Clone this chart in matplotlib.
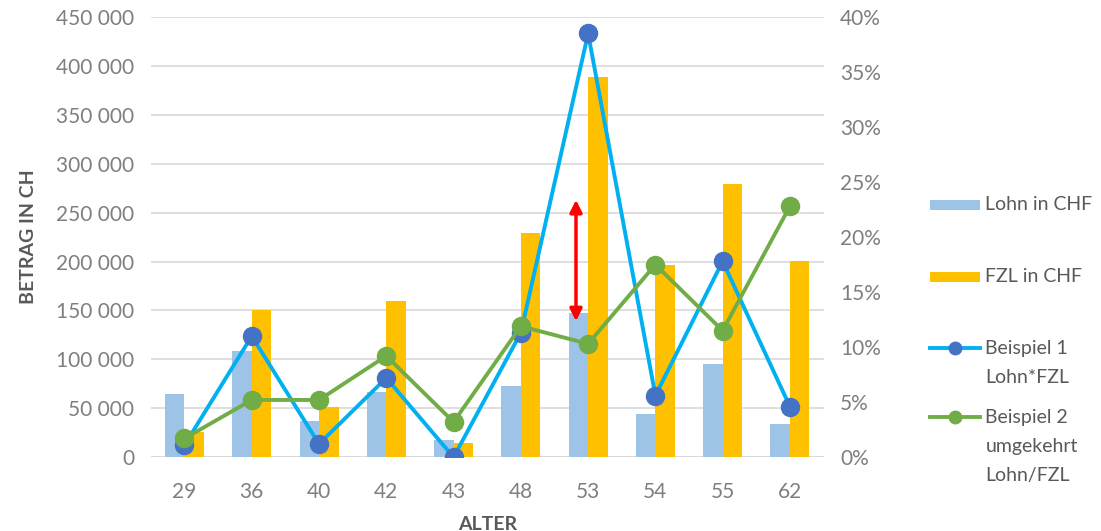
import matplotlib.pyplot as plt
from matplotlib.ticker import FuncFormatter, MultipleLocator
from matplotlib.lines import Line2D
from matplotlib.patches import Rectangle
import numpy as np

plt.rcParams['font.family'] = ['Lato', 'DejaVu Sans']

alter = ['29', '36', '40', '42', '43', '48', '53', '54', '55', '62']
lohn = [65000, 109000, 37000, 67000, 18000, 73000, 147000, 44000, 95000, 34000]
fzl = [26000, 150000, 51000, 160000, 15000, 229000, 389000, 196000, 279000, 201000]
beispiel_1 = [1.1, 11.0, 1.2, 7.2, 0.0, 11.3, 38.5, 5.6, 17.8, 4.6]
beispiel_2 = [1.7, 5.2, 5.2, 9.2, 3.2, 11.9, 10.3, 17.5, 11.5, 22.8]

# Pfeil zwischen Lohn und FZL bei Alter 53
pfeil_x = 5.82
pfeil_von, pfeil_bis = 139000, 263000

GRAU = '#7F7F7F'
TITEL_GRAU = '#595959'
HELLBLAU = '#9DC3E6'
GELB = '#FFC000'
CYAN = '#00B0F0'
BLAU = '#4472C4'
GRUEN = '#70AD47'

fig = plt.figure(figsize=(11.01, 5.31), dpi=100)
ax = fig.add_axes([0.137, 0.139, 0.611, 0.829])
ax2 = ax.twinx()

x = np.arange(len(alter))
breite = 0.29
ax.bar(x - breite / 2, lohn, breite, color=HELLBLAU, zorder=2)
ax.bar(x + breite / 2, fzl, breite, color=GELB, zorder=2)

ax.annotate('', xy=(pfeil_x, pfeil_bis), xytext=(pfeil_x, pfeil_von),
            arrowprops=dict(arrowstyle='<|-|>', color='red', lw=2.5,
                            mutation_scale=18, shrinkA=0, shrinkB=0), zorder=3)

ax2.plot(x, beispiel_1, color=CYAN, lw=2.8, marker='o', markersize=13,
         markerfacecolor=BLAU, markeredgecolor=BLAU, zorder=4)
ax2.plot(x, beispiel_2, color=GRUEN, lw=2.8, marker='o', markersize=13,
         markerfacecolor=GRUEN, markeredgecolor=GRUEN, zorder=4)

ax.set_xlim(-0.5, len(alter) - 0.5)
ax.set_ylim(0, 450000)
ax2.set_ylim(0, 40)
ax.yaxis.set_major_locator(MultipleLocator(50000))
ax2.yaxis.set_major_locator(MultipleLocator(5))
ax.yaxis.set_major_formatter(FuncFormatter(lambda v, p: f'{int(v):,}'.replace(',', ' ')))
ax2.yaxis.set_major_formatter(FuncFormatter(lambda v, p: f'{int(v)}%'))

ax.set_xticks(x)
ax.set_xticklabels(alter)
ax.grid(axis='y', color='#D9D9D9', lw=1.2, zorder=0)
ax.set_axisbelow(True)

for a in (ax, ax2):
    for s in ('top', 'left', 'right', 'bottom'):
        a.spines[s].set_visible(False)
    a.tick_params(length=0, labelsize=15, labelcolor=GRAU)
ax.axhline(0, color='#D9D9D9', lw=1.5, zorder=1)
ax.tick_params(axis='x', pad=18)
ax.tick_params(axis='y', pad=12)
ax2.tick_params(axis='y', pad=12)

ax.set_xlabel('ALTER', fontsize=14, fontweight='bold', color=TITEL_GRAU, labelpad=10)
ax.set_ylabel('BETRAG IN CH', fontsize=14, fontweight='bold', color=TITEL_GRAU, labelpad=14)

# Legende rechts, Symbol jeweils auf Höhe der ersten Textzeile
leg_x0, leg_x1, text_x = 0.845, 0.890, 0.895
zeilenabstand = 0.0545
eintraege = [
    ('bar', HELLBLAU, None, ['Lohn in CHF'], 0.614),
    ('bar', GELB, None, ['FZL in CHF'], 0.479),
    ('line', CYAN, BLAU, ['Beispiel 1', 'Lohn*FZL'], 0.344),
    ('line', GRUEN, GRUEN, ['Beispiel 2', 'umgekehrt', 'Lohn/FZL'], 0.214),
]
for art, farbe, markerfarbe, zeilen, y in eintraege:
    if art == 'bar':
        fig.add_artist(Rectangle((leg_x0, y - 0.0094), leg_x1 - leg_x0, 0.0188,
                                 transform=fig.transFigure, color=farbe, lw=0))
    else:
        fig.add_artist(Line2D([leg_x0, leg_x1], [y, y], transform=fig.transFigure,
                              color=farbe, lw=2.8))
        fig.add_artist(Line2D([(leg_x0 + leg_x1) / 2], [y], transform=fig.transFigure,
                              marker='o', markersize=9, color=markerfarbe, lw=0))
    for i, zeile in enumerate(zeilen):
        fig.text(text_x, y - i * zeilenabstand, zeile, fontsize=14, color=TITEL_GRAU,
                 va='center', ha='left')

fig.savefig('out.png', dpi=100)
